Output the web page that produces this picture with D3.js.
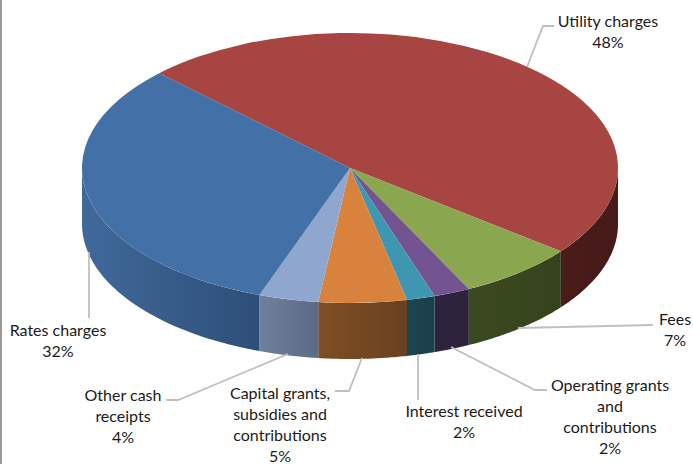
<!DOCTYPE html>
<html>
<head>
<meta charset="utf-8">
<script src="https://cdnjs.cloudflare.com/ajax/libs/d3/7.8.5/d3.min.js"></script>
<style>
  html, body { margin: 0; padding: 0; background: #fff; }
  text { font-family: Lato, "Open Sans", sans-serif; font-size: 16px; fill: #1a1a1a; text-anchor: middle; }
</style>
</head>
<body>
<svg id="chart" width="693" height="464"></svg>
<script>
// chart data
const categories = ["Utility charges", "Fees", "Operating grants and contributions", "Interest received",
  "Capital grants, subsidies and contributions", "Other cash receipts", "Rates charges"];
const shares = [48.2, 7.1, 2.2, 1.7, 5.3, 3.6, 31.9];
const labelLines = [["Utility charges"], ["Fees"], ["Operating grants", "and", "contributions"], ["Interest received"],
  ["Capital grants,", "subsidies and", "contributions"], ["Other cash", "receipts"], ["Rates charges"]];

// colours per slice: top face, wall left, wall right
const topColors = ["#a64541", "#8aa64f", "#735490", "#3f96b0", "#d9823d", "#8fa6ce", "#4470a8"];
const wallLeft = ["#4a1c1a", "#3a4a20", "#2f2340", "#1a4552", "#7f4e24", "#6f809e", "#40699a"];
const wallRight = ["#451a18", "#36431d", "#2c2239", "#1b3e4a", "#694120", "#5b6a85", "#2d4e78"];

// layout
const width = 693, height = 464;
const cx = 350, cy = 168, rx = 268, ry = 135, depth = 56;
const startDeg = -45.4;
const labelPos = [[608, 26.5], [675, 324.5], [610, 390.5], [464, 416.5], [280, 398.5], [123, 400.5], [58, 335.5]];
const lineGap = 21;
const leaders = [
  [[527, 67], [543, 26], [554, 26]],
  [[518, 328], [653, 325]],
  [[451, 347], [535, 390], [547, 390]],
  [[418, 354], [418, 400]],
  [[362, 358], [349, 391], [335, 391]],
  [[288, 354], [178, 400], [166, 400]],
  [[89, 252], [89, 318]]
];

const svg = d3.select("#chart");

// window border on the left
svg.append("rect").attr("x", 0).attr("y", 0).attr("width", 2).attr("height", height).attr("fill", "#9a9a9a");

const pie = d3.pie().sort(null)
  .startAngle(startDeg * Math.PI / 180)
  .endAngle((startDeg + 360) * Math.PI / 180);
const slices = pie(shares);

const xAt = a => cx + rx * Math.sin(a);
const yAt = a => cy - ry * Math.cos(a);

// walls, only the front half of the ellipse can be seen
const defs = svg.append("defs");
const wallLine = d3.line();

slices.forEach((s, i) => {
  const a0 = Math.max(s.startAngle, Math.PI / 2);
  const a1 = Math.min(s.endAngle, Math.PI * 1.5);
  if (a1 <= a0) return;

  const grad = defs.append("linearGradient")
    .attr("id", "wall" + i)
    .attr("gradientUnits", "userSpaceOnUse")
    .attr("x1", Math.min(xAt(a0), xAt(a1))).attr("x2", Math.max(xAt(a0), xAt(a1)))
    .attr("y1", 0).attr("y2", 0);
  grad.append("stop").attr("offset", 0).attr("stop-color", wallLeft[i]);
  grad.append("stop").attr("offset", 1).attr("stop-color", wallRight[i]);

  const steps = d3.range(0, 41).map(k => a0 + (a1 - a0) * k / 40);
  const pts = steps.map(a => [xAt(a), yAt(a)])
    .concat(steps.slice().reverse().map(a => [xAt(a), yAt(a) + depth]));
  svg.append("path")
    .attr("d", wallLine(pts) + "Z")
    .attr("fill", "url(#wall" + i + ")");
});

// top face
const arc = d3.arc().innerRadius(0).outerRadius(rx);
svg.append("g")
  .attr("transform", `translate(${cx},${cy}) scale(1,${ry / rx})`)
  .selectAll("path")
  .data(slices)
  .join("path")
  .attr("d", arc)
  .attr("fill", (d, i) => topColors[i]);

// leader lines
svg.append("g")
  .selectAll("path")
  .data(leaders)
  .join("path")
  .attr("d", d => d3.line()(d))
  .attr("fill", "none")
  .attr("stroke", "#bfbfbf")
  .attr("stroke-width", 1.8);

// labels: category lines then percentage
const labels = svg.append("g")
  .selectAll("text")
  .data(categories)
  .join("text")
  .attr("transform", (d, i) => `translate(${labelPos[i][0]},${labelPos[i][1]})`);

labels.each(function (d, i) {
  const lines = labelLines[i].concat([Math.round(shares[i]) + "%"]);
  d3.select(this).selectAll("tspan")
    .data(lines)
    .join("tspan")
    .attr("x", 0)
    .attr("y", (l, k) => k * lineGap)
    .text(l => l);
});
</script>
</body>
</html>
